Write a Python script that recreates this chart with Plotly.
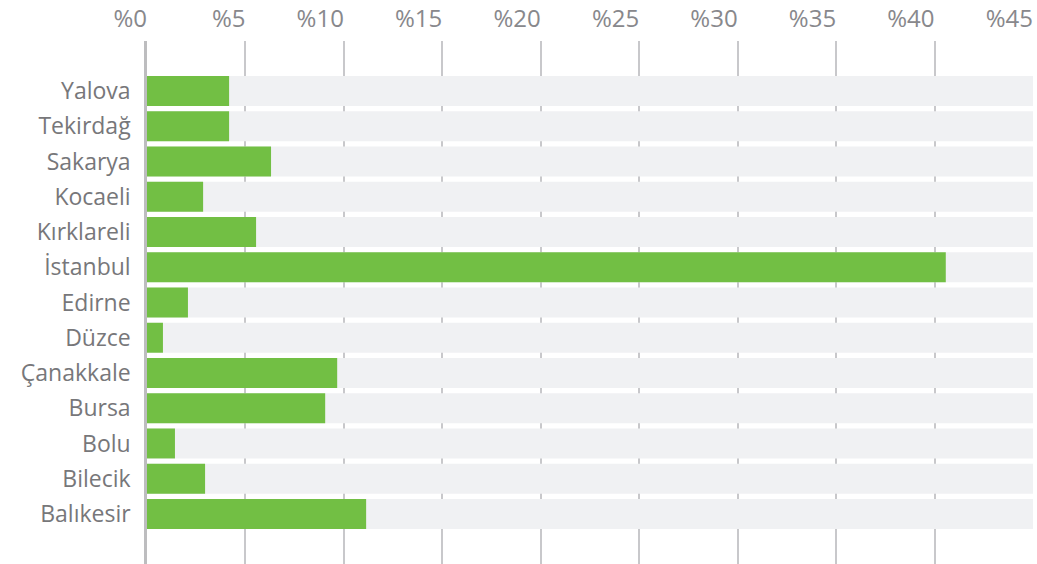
import plotly.graph_objects as go

categories = ["Yalova", "Tekirdağ", "Sakarya", "Kocaeli", "Kırklareli", "İstanbul",
              "Edirne", "Düzce", "Çanakkale", "Bursa", "Bolu", "Bilecik", "Balıkesir"]
values = [4.17, 4.17, 6.30, 2.85, 5.54, 40.57, 2.08, 0.81, 9.66, 9.05, 1.42, 2.95, 11.13]
tick_vals = [0, 5, 10, 15, 20, 25, 30, 35, 40, 45]
tick_text = ["%0", "%5", "%10", "%15", "%20", "%25", "%30", "%35", "%40", "%45"]

x_max = tick_vals[-1]
cats = categories[::-1]
vals = values[::-1]

fig = go.Figure()
fig.add_trace(go.Bar(
    y=cats, x=[x_max] * len(cats), orientation="h",
    marker=dict(color="#f0f1f3", line=dict(width=0)),
    width=0.85, hoverinfo="skip", showlegend=False,
))
fig.add_trace(go.Bar(
    y=cats, x=vals, orientation="h",
    marker=dict(color="#72bf44", line=dict(width=0)),
    width=0.85, showlegend=False,
))

FONT = "Open Sans, sans-serif"
fig.update_layout(
    width=1037, height=564,
    margin=dict(l=147, r=4, t=41, b=0),
    barmode="overlay",
    plot_bgcolor="white", paper_bgcolor="white",
    font=dict(family=FONT, color="#77777a"),
    xaxis=dict(
        side="top", range=[0, x_max], automargin=False,
        tickvals=tick_vals, ticktext=tick_text,
        tickfont=dict(size=24, color="#88888c"),
        ticklabelposition="outside left",
        showgrid=True, gridcolor="#c8c8cb", gridwidth=1.5,
        zeroline=False, showline=False, ticks="",
        layer="above traces",
        ticklabelstandoff=8,
    ),
    yaxis=dict(
        categoryorder="array", categoryarray=cats, automargin=False,
        range=[-1.42, len(cats) - 1 + 1.42],
        tickfont=dict(size=23, color="#77777a"),
        showgrid=False, zeroline=False,
        showline=True, linecolor="#bdbdbf", linewidth=2.5,
        ticks="", ticklabelstandoff=9,
    ),
)
fig.write_html("out.html", config={"displayModeBar": False},
               post_script="document.body.style.margin='0';")
